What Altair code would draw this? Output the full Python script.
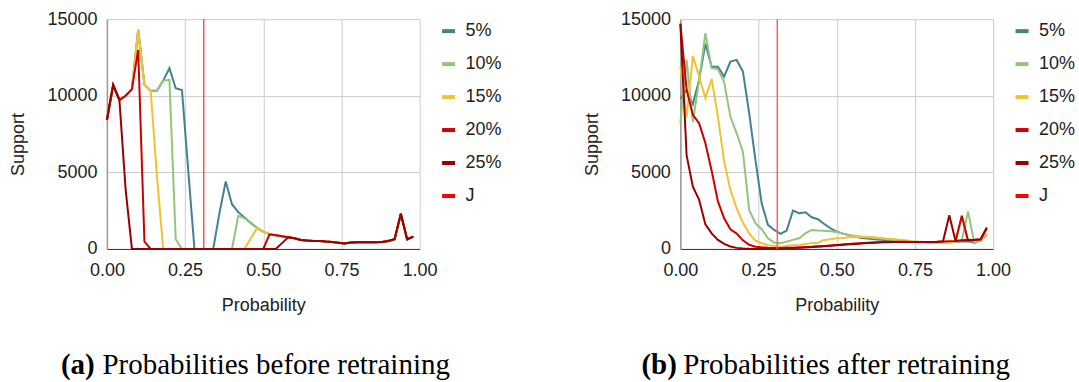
import altair as alt
import pandas as pd

# Probability bins (x positions)
X = [0.00, 0.02, 0.04, 0.06, 0.08, 0.10, 0.12, 0.14, 0.16, 0.18,
     0.20, 0.22, 0.24, 0.26, 0.28, 0.30, 0.32, 0.34, 0.36, 0.38,
     0.40, 0.42, 0.44, 0.46, 0.48, 0.50, 0.52, 0.54, 0.56, 0.58,
     0.60, 0.62, 0.64, 0.66, 0.68, 0.70, 0.72, 0.74, 0.76, 0.78,
     0.80, 0.82, 0.84, 0.86, 0.88, 0.90, 0.92, 0.94, 0.96, 0.98]

SERIES = ["5%", "10%", "15%", "20%", "25%"]
LEGEND_DOMAIN = ["5%", "10%", "15%", "20%", "25%", "J"]
COLORS = ["#45818e", "#93c47d", "#f1c232", "#cc0000", "#990000", "#ff0000"]
J_VALUE = [0.31]

# ---- (a) before retraining ----
before_5 = [8420, 10700, 9730, 10000, 10430, 14300, 10710, 10320, 10320, 10990,
            11800, 10490, 10380, 5150, 0, 0, 0, 0, 2350, 4400,
            2920, 2400, 2050, 1700, 1380, 1130, 960, 900, 830, 760,
            700, 590, 550, 525, 515, 480, 455, 400, 350, 420,
            435, 435, 430, 440, 460, 520, 630, 2300, 630, 800]
before_10 = [8420, 10700, 9730, 10000, 10430, 14300, 10710, 10320, 10320, 10990,
             11035, 630, 0, 0, 0, 0, 0, 0, 0, 0,
             0, 2160, 2000, 1680, 1360, 1130, 960, 900, 830, 760,
             700, 590, 550, 525, 515, 480, 455, 400, 350, 420,
             435, 435, 430, 440, 460, 520, 630, 2300, 630, 800]
before_15 = [8420, 10700, 9730, 10000, 10430, 14300, 10710, 10320, 4770, 0,
             0, 0, 0, 0, 0, 0, 0, 0, 0, 0,
             0, 0, 0, 680, 1350, 1130, 960, 900, 830, 760,
             700, 590, 550, 525, 515, 480, 455, 400, 350, 420,
             435, 435, 430, 440, 460, 520, 630, 2300, 630, 800]
before_20 = [8420, 10700, 9730, 10000, 10430, 13000, 480, 0, 0, 0,
             0, 0, 0, 0, 0, 0, 0, 0, 0, 0,
             0, 0, 0, 0, 0, 0, 960, 900, 830, 760,
             700, 590, 550, 525, 515, 480, 455, 400, 350, 420,
             435, 435, 430, 440, 460, 520, 630, 2300, 630, 800]
before_25 = [8420, 10700, 9730, 3850, 0, 0, 0, 0, 0, 0,
             0, 0, 0, 0, 0, 0, 0, 0, 0, 0,
             0, 0, 0, 0, 0, 0, 0, 0, 380, 760,
             700, 590, 550, 525, 515, 480, 455, 400, 350, 420,
             435, 435, 430, 440, 460, 520, 630, 2300, 630, 800]

# ---- (b) after retraining ----
after_5 = [9800, 10380, 9450, 11040, 13400, 11900, 11900, 11250, 12230, 12340,
           11580, 8860, 5810, 2980, 1570, 1240, 980, 1200, 2500, 2330,
           2390, 2070, 1940, 1630, 1350, 1130, 1000, 900, 800, 720,
           680, 640, 600, 560, 520, 500, 480, 460, 440, 430,
           420, 420, 430, 440, 460, 480, 500, 400, 550, 950]
after_10 = [8210, 12340, 8300, 11000, 14080, 11800, 11740, 10900, 8640, 7550,
            6350, 2550, 1680, 1290, 700, 410, 370, 480, 590, 700,
            1020, 1240, 1200, 1180, 1150, 1100, 1000, 900, 850, 800,
            760, 720, 680, 640, 600, 560, 520, 490, 470, 450,
            440, 430, 440, 450, 470, 550, 2450, 370, 550, 900]
after_15 = [11900, 8600, 12600, 11250, 9840, 11100, 8650, 5700, 3850, 2650,
            1720, 1020, 540, 370, 240, 200, 150, 200, 240, 260,
            330, 370, 410, 590, 630, 700, 720, 760, 780, 790,
            780, 760, 720, 680, 650, 600, 560, 500, 470, 450,
            440, 430, 430, 440, 460, 2200, 500, 550, 600, 1000]
after_20 = [14700, 10400, 8750, 8200, 6900, 5100, 3100, 2000, 1280, 1000,
            560, 270, 150, 110, 80, 60, 60, 70, 80, 100,
            120, 140, 170, 200, 230, 260, 290, 320, 350, 380,
            400, 420, 440, 450, 460, 470, 470, 460, 460, 450,
            450, 460, 480, 500, 520, 2150, 530, 580, 620, 1350]
after_25 = [14700, 6100, 4070, 3200, 1600, 1020, 590, 330, 160, 70,
            30, 10, 0, 0, 10, 20, 30, 40, 60, 80,
            100, 120, 150, 180, 210, 240, 270, 300, 330, 360,
            390, 410, 430, 440, 450, 460, 460, 460, 460, 460,
            460, 470, 500, 2200, 520, 560, 580, 600, 640, 1400]

X_TICKS = [0, 0.25, 0.5, 0.75, 1.0]
Y_TICKS = [0, 5000, 10000, 15000]

FONT = "Liberation Sans"
SERIF = "Liberation Serif"


def make_panel(values, tag, caption, tag_x, cap_x, rule_width, rule_color):
    rows = []
    for name, vals in zip(SERIES, values):
        for xv, yv in zip(X, vals):
            rows.append({"x": xv, "y": yv, "series": name})
    df = pd.DataFrame(rows)

    color = alt.Color(
        "series:N",
        scale=alt.Scale(domain=LEGEND_DOMAIN, range=COLORS),
        legend=alt.Legend(
            title=None, orient="right", offset=17, padding=3,
            symbolType="stroke", symbolSize=169, symbolStrokeWidth=4,
            labelFontSize=18, labelFont=FONT, labelColor="#222222",
            labelOffset=8, rowPadding=15,
        ),
    )
    xscale = alt.Scale(domain=[0, 1], nice=False, zero=False)
    xenc = alt.X(
        "x:Q",
        scale=xscale,
        axis=alt.Axis(values=X_TICKS, format=".2f", title="Probability"),
    )
    yenc = alt.Y(
        "y:Q",
        scale=alt.Scale(domain=[0, 15000], nice=False),
        axis=alt.Axis(values=Y_TICKS, format="d", title="Support", titleY=125),
    )

    layers = []
    for name in SERIES:
        layers.append(
            alt.Chart(df)
            .transform_filter(alt.datum.series == name)
            .mark_line(strokeWidth=2)
            .encode(x=xenc, y=yenc, color=color)
        )

    rule = (
        alt.Chart(pd.DataFrame({"x": J_VALUE}))
        .mark_rule(strokeWidth=rule_width, color=rule_color)
        .encode(x=xenc)
    )

    cap_tag = (
        alt.Chart(pd.DataFrame({"t": [tag]}))
        .mark_text(font=SERIF, fontSize=29, fontWeight="bold", align="left",
                   baseline="alphabetic", color="#000000")
        .encode(text="t:N", x=alt.value(tag_x), y=alt.value(355))
    )
    cap_txt = (
        alt.Chart(pd.DataFrame({"t": [caption]}))
        .mark_text(font=SERIF, fontSize=29, align="left",
                   baseline="alphabetic", color="#000000")
        .encode(text="t:N", x=alt.value(cap_x), y=alt.value(355))
    )

    return alt.layer(*layers, rule, cap_tag, cap_txt).properties(width=313, height=230)


left = make_panel([before_5, before_10, before_15, before_20, before_25],
                  "(a)", "Probabilities before retraining", -46, -4.5, 1, "#ff0000")
right = make_panel([after_5, after_10, after_15, after_20, after_25],
                   "(b)", "Probabilities after retraining", -39, 3, 1.5, "#ff6060")

chart = (
    alt.hconcat(left, right, spacing=77)
    .resolve_scale(color="independent")
    .properties(padding={"left": 9, "top": 10, "right": 0, "bottom": 0})
    .configure_view(strokeWidth=0)
    .configure_axis(
        grid=True, gridColor="#cccccc", gridWidth=1,
        ticks=False, labelPadding=10, labelFlush=False, labelOverlap=False,
        labelFont=FONT, labelFontSize=18, labelColor="#222222",
        titleFont=FONT, titleFontSize=18, titleFontWeight="normal", titleColor="#222222",
    )
    .configure_axisX(domainColor="#333333", domainWidth=1, labelPadding=13, titlePadding=17)
    .configure_axisY(domainColor="#999999", domainWidth=1.5, titlePadding=19)
)

chart.save("out.html", embed_options={"renderer": "svg", "actions": False})
